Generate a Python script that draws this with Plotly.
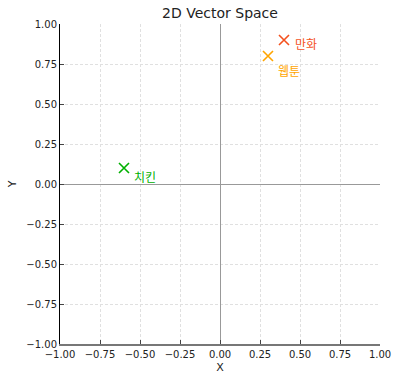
import plotly.graph_objects as go

words = ["만화", "웹툰", "치킨"]
xs = [0.4, 0.3, -0.6]
ys = [0.9, 0.8, 0.1]
colors = ["#f4511e", "#ffa500", "#00b000"]
label_shift = [(9, -3), (8, -14), (8, -8)]

tick_vals = [-1.0, -0.75, -0.5, -0.25, 0.0, 0.25, 0.5, 0.75, 1.0]
tick_text = ["−1.00", "−0.75", "−0.50", "−0.25", "0.00", "0.25", "0.50", "0.75", "1.00"]

fig = go.Figure()
for w, x, y, c in zip(words, xs, ys, colors):
    fig.add_trace(go.Scatter(x=[x], y=[y], mode="markers",
                             marker=dict(symbol="x-thin", size=10, line=dict(color=c, width=1.6)),
                             showlegend=False, hoverinfo="skip"))

for w, x, y, c, (dx, dy) in zip(words, xs, ys, colors, label_shift):
    fig.add_annotation(x=x, y=y, text=w, showarrow=False, xanchor="left", yanchor="middle",
                       xshift=dx, yshift=dy,
                       font=dict(family="Noto Sans CJK KR", size=12, color=c))

axis_common = dict(range=[-1, 1], tickvals=tick_vals, ticktext=tick_text,
                   ticks="inside", ticklen=4, tickcolor="#444",
                   showgrid=True, gridcolor="#e0e0e0", griddash="3px,2px", gridwidth=1,
                   zeroline=True, zerolinecolor="#999999", zerolinewidth=1,
                   tickfont=dict(family="DejaVu Sans", size=10, color="#222"),
                   automargin=False, fixedrange=True)

fig.update_xaxes(**axis_common, showline=True, linecolor="#777777", linewidth=2,
                 title=dict(text="X", font=dict(family="DejaVu Sans", size=11, color="#222"), standoff=4))
fig.update_yaxes(**axis_common, showline=True, linecolor="#000000", linewidth=1,
                 title=dict(text="Y", font=dict(family="DejaVu Sans", size=11, color="#222"), standoff=7))

fig.update_layout(width=400, height=381,
                  margin=dict(l=60, r=20, t=24, b=37, autoexpand=False),
                  paper_bgcolor="white", plot_bgcolor="white",
                  title=dict(text="2D Vector Space", x=0.55, xanchor="center",
                             yref="container", y=1 - 13 / 381, yanchor="middle",
                             font=dict(family="DejaVu Sans", size=14, color="#222")))

fig.write_html("out.html",
               config={"displayModeBar": False, "staticPlot": True},
               post_script="document.body.style.margin='0';document.body.style.padding='0';")
